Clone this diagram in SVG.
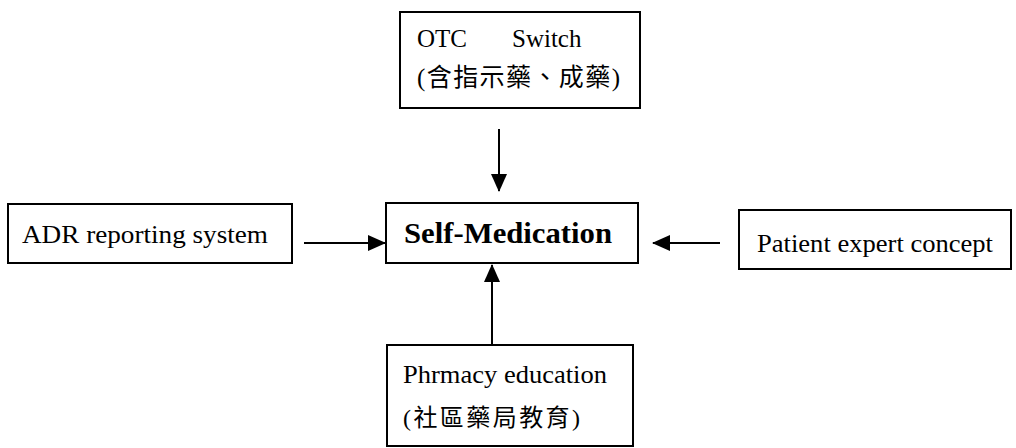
<svg xmlns="http://www.w3.org/2000/svg" width="1016" height="448" viewBox="0 0 1016 448">
<style>
.box{fill:#fff;stroke:#000;stroke-width:2}
.t{font-family:"Liberation Serif","Times New Roman",serif;fill:#000}
.cjk{font-family:"Liberation Serif","Noto Sans CJK TC",serif;fill:#000}
.conn{stroke:#000;stroke-width:2;fill:none}
</style>
<defs>
<marker id="ah" markerWidth="18" markerHeight="18" viewBox="0 0 18 18" refX="17" refY="9" orient="auto" markerUnits="userSpaceOnUse">
<path d="M0,1 L18,9 L0,17 Z" fill="#000"/>
</marker>
</defs>
<rect width="1016" height="448" fill="#fff"/>
<g id="otc-switch">
<rect class="box" x="400" y="12" width="240" height="96"/>
<text class="t" font-size="25"><tspan x="417" y="47">OTC</tspan><tspan x="512" y="47">Switch</tspan></text>
<text class="cjk" x="417" y="86" font-size="25" textLength="203" lengthAdjust="spacing">(含指示藥、成藥)</text>
</g>
<g id="adr">
<rect class="box" x="8" y="204" width="284" height="59"/>
<text class="t" x="22" y="243" font-size="26" textLength="246" lengthAdjust="spacingAndGlyphs">ADR reporting system</text>
</g>
<g id="self-medication">
<rect class="box" x="386" y="203" width="252" height="60"/>
<text class="t" x="404" y="243" font-size="30" font-weight="bold" textLength="208" lengthAdjust="spacingAndGlyphs">Self-Medication</text>
</g>
<g id="patient-expert">
<rect class="box" x="739" y="210" width="272" height="59"/>
<text class="t" x="757" y="252" font-size="26" textLength="236" lengthAdjust="spacingAndGlyphs">Patient expert concept</text>
</g>
<g id="pharmacy-education">
<rect class="box" x="387" y="345" width="246" height="101"/>
<text class="t" x="403" y="383" font-size="26" textLength="204" lengthAdjust="spacingAndGlyphs">Phrmacy education</text>
<text class="cjk" x="403" y="426" font-size="24" textLength="177" lengthAdjust="spacing">(社區藥局教育)</text>
</g>
<g id="connectors">
<line class="conn" x1="499" y1="129" x2="499" y2="191" marker-end="url(#ah)"/>
<line class="conn" x1="304" y1="243" x2="385" y2="243" marker-end="url(#ah)"/>
<line class="conn" x1="720" y1="243" x2="653" y2="243" marker-end="url(#ah)"/>
<line class="conn" x1="492" y1="345" x2="492" y2="265" marker-end="url(#ah)"/>
</g>
</svg>
